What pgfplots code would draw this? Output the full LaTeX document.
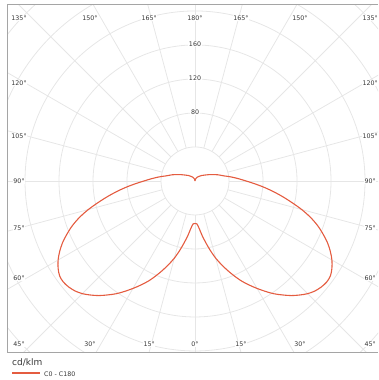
\documentclass[border=0pt]{standalone}
\usepackage{fontspec}
\setmainfont{DejaVu Sans}
\usepackage{pgfplots}
\usepackage{pgfplotstable}
\pgfplotsset{compat=1.18}
\usepgfplotslibrary{polar}

\definecolor{curve}{RGB}{228,92,64}
\definecolor{gridc}{RGB}{230,230,230}
\definecolor{framec}{RGB}{165,165,165}
\definecolor{lbl}{RGB}{55,55,55}

% gamma (deg from nadir), intensity cd/klm  (C0 = C180, symmetric)
\pgfplotstableread{
g r
0 50
2.5 50.5
5 56
7.5 65
10 74
12.5 84
15 94
17.5 103
20 112
22.5 121
25 130
27.5 138
30 146
32.5 154
35 162
37.5 169
40 176
42.5 182
45 187.5
47.5 191.5
50 194
52.5 195.3
55 194.5
57.5 191
60 186
62.5 179.5
65 172
67.5 163
70 153.5
72.5 142.5
75 130
77.5 116.5
80 104
82.5 92
85 80.5
87.5 69.5
90 60
92.5 52.5
95 46
97.5 40
100 34.5
105 28
110 22
115 17.5
120 14
130 10
140 7
150 5
160 3
170 1.5
180 0
}\lumdata

\begin{document}
\begin{tikzpicture}[
    lab/.style={fill=white, inner sep=0.6pt, text=lbl, font=\fontsize{6.3}{7}\selectfont}
  ]
  \path[use as bounding box] (-7pt,-28pt) rectangle (371pt,352pt);
  \begin{axis}[
      at={(0,0)}, anchor=south west,
      scale only axis,
      width=371pt, height=347pt,
      xmin=-221.2, xmax=215.3,
      ymin=-201.2, ymax=207,
      hide axis,
      clip=true
    ]
    % polar grid
    \pgfplotsinvokeforeach{40,80,120,160,200,240,280,320}{
      \draw[gridc, line width=0.8pt] (axis cs:0,0) circle[radius=#1*0.85pt];
    }
    \pgfplotsinvokeforeach{0,15,30,45,60,75,90,105,120,135,150,165,180,195,210,225,240,255,270,285,300,315,330,345}{
      \draw[gridc, line width=0.8pt] (axis cs:0,0) ++(#1:34pt) -- ++(#1:320pt);
    }

    % C0 (right) and C180 (left)
    \addplot[curve, line width=1.1pt, smooth, tension=0.5, data cs=polar] table[x expr={270-\thisrow{g}}, y=r]{\lumdata};
    \addplot[curve, line width=1.1pt, smooth, tension=0.5, data cs=polar] table[x expr={270+\thisrow{g}}, y=r]{\lumdata};

    % radial labels
    \node[lab] at (axis cs:0,161) {160};
    \node[lab] at (axis cs:0,121) {120};
    \node[lab] at (axis cs:0,81) {80};

    % angle labels
    \node[lab] at (axis cs:-207,191.8) {135°};
    \node[lab] at (axis cs:-123.5,191.8) {150°};
    \node[lab] at (axis cs:-54,191.8) {165°};
    \node[lab] at (axis cs:0,191.8) {180°};
    \node[lab] at (axis cs:54,191.8) {165°};
    \node[lab] at (axis cs:123.5,191.8) {150°};
    \node[lab] at (axis cs:206,191.8) {135°};

    \node[lab] at (axis cs:-207,-191.8) {45°};
    \node[lab] at (axis cs:-123.5,-191.8) {30°};
    \node[lab] at (axis cs:-54,-191.8) {15°};
    \node[lab] at (axis cs:0,-191.8) {0°};
    \node[lab] at (axis cs:54,-191.8) {15°};
    \node[lab] at (axis cs:123.5,-191.8) {30°};
    \node[lab] at (axis cs:206,-191.8) {45°};

    \node[lab] at (axis cs:-207,115.3) {120°};
    \node[lab] at (axis cs:-207,52.9) {105°};
    \node[lab] at (axis cs:-207,0) {90°};
    \node[lab] at (axis cs:-207,-55.3) {75°};
    \node[lab] at (axis cs:-207,-114.1) {60°};
    \node[lab] at (axis cs:206,115.3) {120°};
    \node[lab] at (axis cs:206,52.9) {105°};
    \node[lab] at (axis cs:206,0) {90°};
    \node[lab] at (axis cs:206,-55.3) {75°};
    \node[lab] at (axis cs:206,-114.1) {60°};
  \end{axis}

  % frame (open to the right)
  \draw[framec, line width=1pt] (371pt,347pt) -- (0,347pt) -- (0,0) -- (371pt,0);

  % legend
  \node[anchor=west, inner sep=0, text=lbl, font=\fontsize{9}{10}\selectfont] at (5pt,-10pt) {cd/klm};
  \draw[curve, line width=1.1pt] (5pt,-21pt) -- (33pt,-21pt);
  \node[anchor=west, inner sep=0, text=lbl, font=\fontsize{6.3}{7}\selectfont] at (37pt,-22pt) {C0 - C180};
\end{tikzpicture}
\end{document}
